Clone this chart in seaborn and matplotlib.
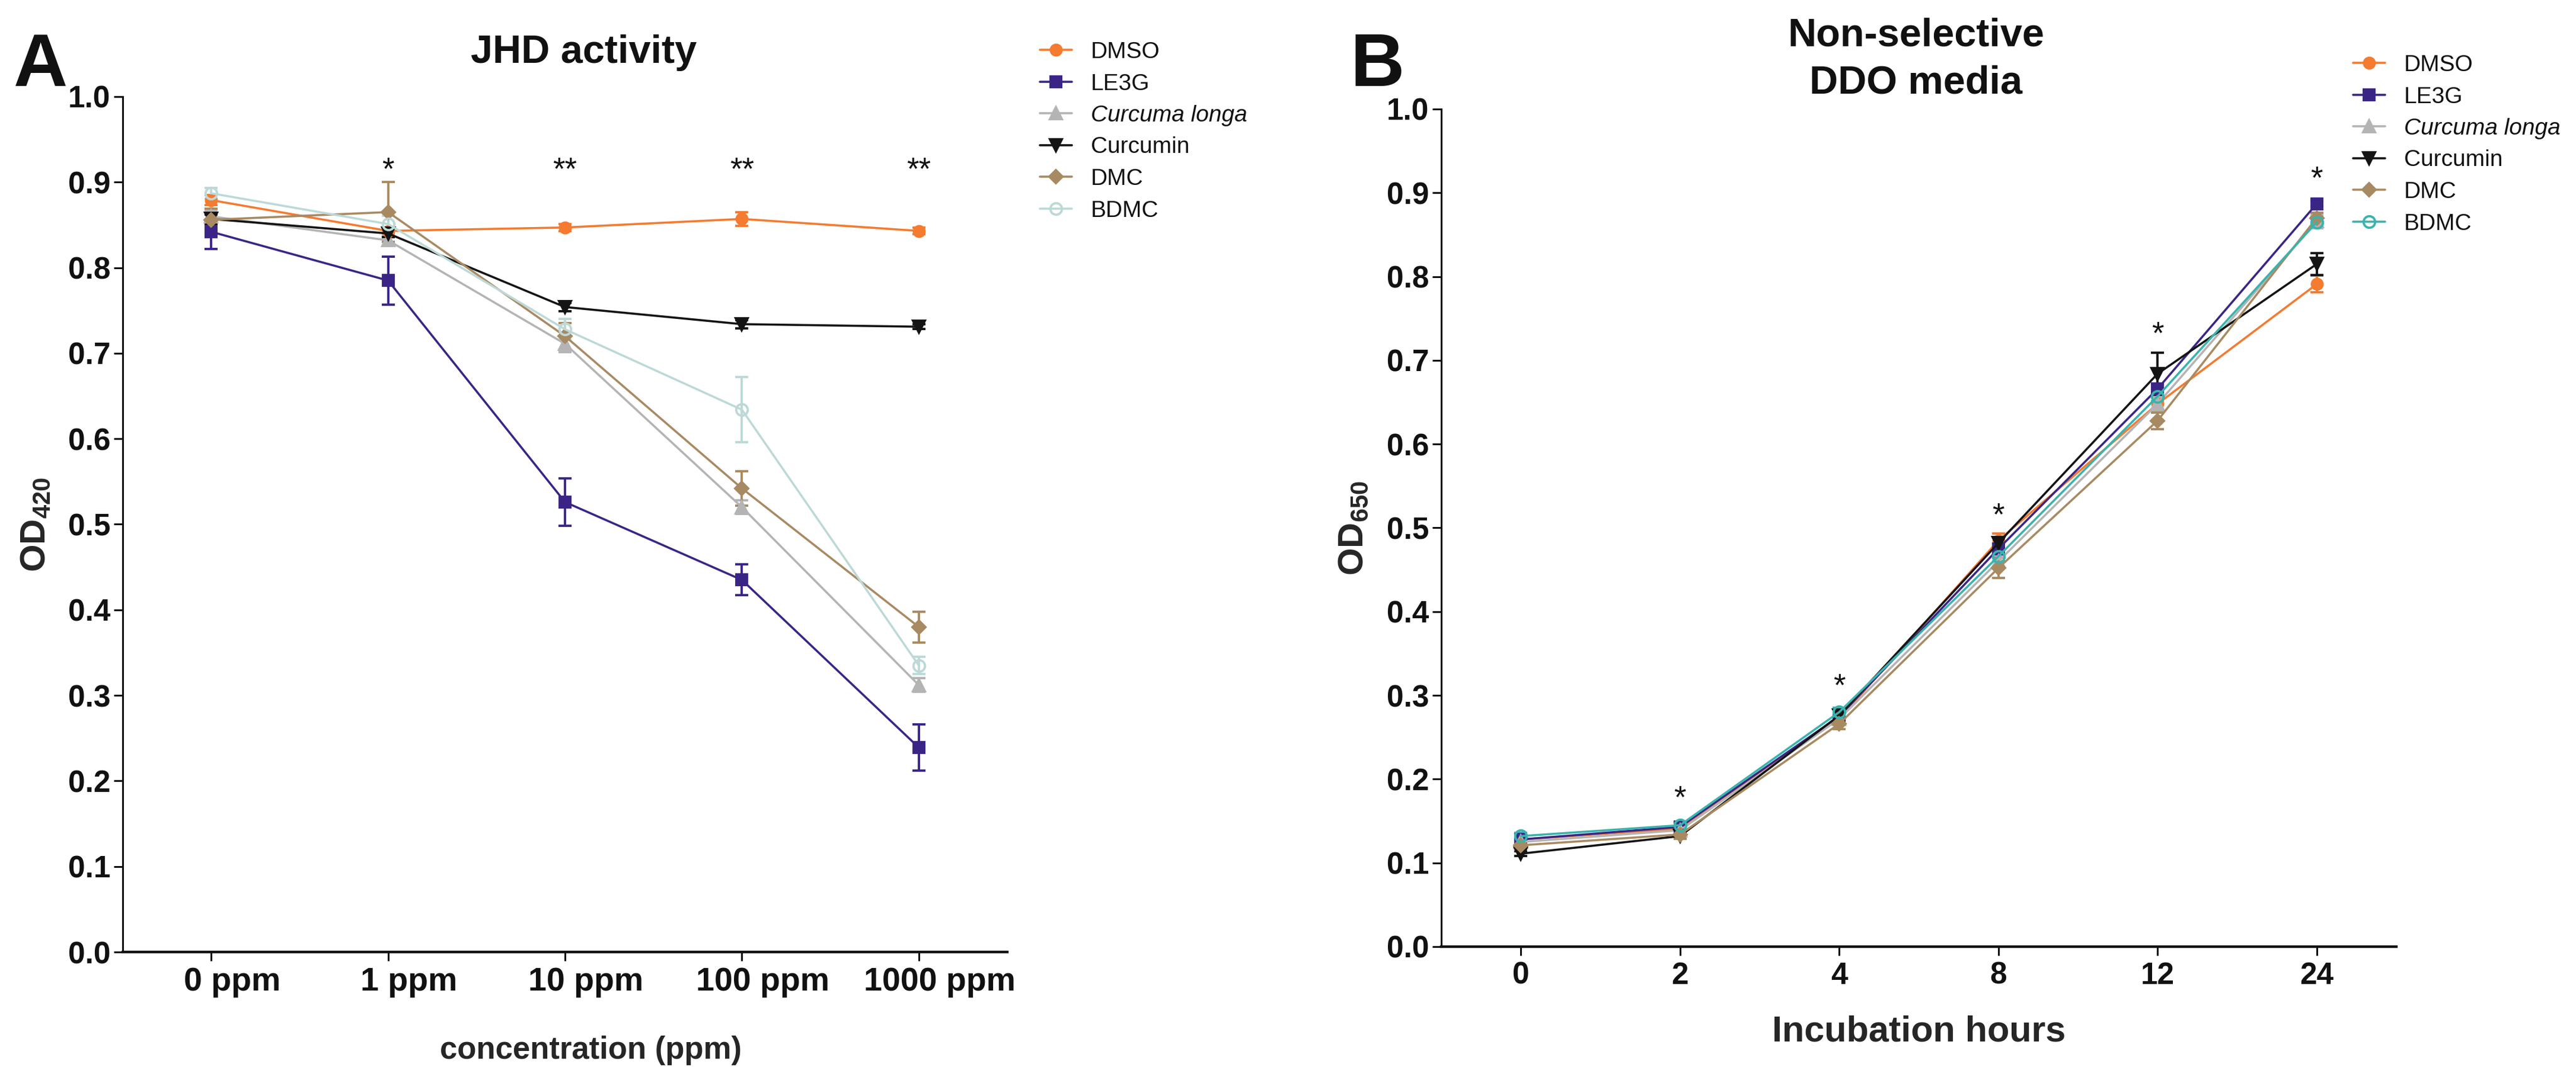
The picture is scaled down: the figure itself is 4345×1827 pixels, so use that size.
import numpy as np
import pandas as pd
import matplotlib
matplotlib.use("Agg")
import matplotlib.pyplot as plt
import seaborn as sns
from matplotlib import transforms

# ---------------- data ----------------
series = ["DMSO", "LE3G", "Curcuma longa", "Curcumin", "DMC", "BDMC"]
conc_labels = ["0 ppm", "1 ppm", "10 ppm", "100 ppm", "1000 ppm"]
hour_labels = ["0", "2", "4", "8", "12", "24"]

# Panel A: JHD activity (OD420), mean and SEM
jhd_DMSO = [0.879, 0.843, 0.847, 0.857, 0.843]
jhd_LE3G = [0.842, 0.785, 0.526, 0.435, 0.239]
jhd_Curcuma = [0.860, 0.832, 0.711, 0.520, 0.312]
jhd_Curcumin = [0.857, 0.840, 0.754, 0.734, 0.731]
jhd_DMC = [0.856, 0.865, 0.720, 0.542, 0.380]
jhd_BDMC = [0.887, 0.851, 0.728, 0.634, 0.335]

jhd_err_DMSO = [0.006, 0.004, 0.004, 0.008, 0.004]
jhd_err_LE3G = [0.020, 0.028, 0.028, 0.018, 0.027]
jhd_err_Curcuma = [0.006, 0.006, 0.010, 0.008, 0.008]
jhd_err_Curcumin = [0.006, 0.004, 0.005, 0.005, 0.003]
jhd_err_DMC = [0.013, 0.035, 0.015, 0.020, 0.018]
jhd_err_BDMC = [0.006, 0.010, 0.012, 0.038, 0.010]

jhd_star_pos = [1, 2, 3, 4]
jhd_star_text = ["*", "**", "**", "**"]
jhd_star_y = [0.925, 0.925, 0.925, 0.925]

# Panel B: growth in non-selective DDO media (OD650)
ddo_DMSO = [0.128, 0.141, 0.272, 0.485, 0.648, 0.791]
ddo_LE3G = [0.128, 0.143, 0.275, 0.475, 0.666, 0.887]
ddo_Curcuma = [0.125, 0.139, 0.272, 0.460, 0.648, 0.866]
ddo_Curcumin = [0.111, 0.132, 0.276, 0.482, 0.684, 0.815]
ddo_DMC = [0.121, 0.134, 0.266, 0.452, 0.628, 0.870]
ddo_BDMC = [0.132, 0.145, 0.280, 0.466, 0.657, 0.865]

ddo_err_DMSO = [0.004, 0.004, 0.005, 0.008, 0.010, 0.010]
ddo_err_LE3G = [0.004, 0.004, 0.005, 0.006, 0.006, 0.003]
ddo_err_Curcuma = [0.004, 0.004, 0.005, 0.006, 0.008, 0.008]
ddo_err_Curcumin = [0.003, 0.003, 0.004, 0.006, 0.025, 0.013]
ddo_err_DMC = [0.005, 0.005, 0.006, 0.012, 0.010, 0.006]
ddo_err_BDMC = [0.004, 0.004, 0.005, 0.006, 0.006, 0.006]

ddo_star_pos = [1, 2, 3, 4, 5]
ddo_star_text = ["*", "*", "*", "*", "*"]
ddo_star_y = [0.188, 0.322, 0.526, 0.742, 0.928]

jhd_vals = [jhd_DMSO, jhd_LE3G, jhd_Curcuma, jhd_Curcumin, jhd_DMC, jhd_BDMC]
jhd_errs = [jhd_err_DMSO, jhd_err_LE3G, jhd_err_Curcuma, jhd_err_Curcumin, jhd_err_DMC, jhd_err_BDMC]
ddo_vals = [ddo_DMSO, ddo_LE3G, ddo_Curcuma, ddo_Curcumin, ddo_DMC, ddo_BDMC]
ddo_errs = [ddo_err_DMSO, ddo_err_LE3G, ddo_err_Curcuma, ddo_err_Curcumin, ddo_err_DMC, ddo_err_BDMC]


def long_df(labels, vals, errs):
    rows = []
    for name, v, e in zip(series, vals, errs):
        for i, (vv, ee) in enumerate(zip(v, e)):
            rows.append({"series": name, "pos": i, "label": labels[i], "value": vv, "err": ee})
    return pd.DataFrame(rows)


dfA = long_df(conc_labels, jhd_vals, jhd_errs)
dfB = long_df(hour_labels, ddo_vals, ddo_errs)

# ---------------- style ----------------
sns.set_style("ticks")
plt.rcParams["font.family"] = ["Liberation Sans", "DejaVu Sans"]
plt.rcParams["mathtext.fontset"] = "custom"
plt.rcParams["mathtext.rm"] = "Liberation Sans"
plt.rcParams["mathtext.bf"] = "Liberation Sans:bold"
plt.rcParams["text.color"] = "#111111"

colorsA = {"DMSO": "#F47B30", "LE3G": "#3A2586", "Curcuma longa": "#B4B4B4",
           "Curcumin": "#141414", "DMC": "#A88A62", "BDMC": "#BCD9D7"}
colorsB = dict(colorsA)
colorsB["BDMC"] = "#3AB3AD"
markers = {"DMSO": "o", "LE3G": "s", "Curcuma longa": "^", "Curcumin": "v",
           "DMC": "D", "BDMC": "o"}
msizes = {"DMSO": 13, "LE3G": 13, "Curcuma longa": 14, "Curcumin": 14, "DMC": 11, "BDMC": 14}

W, H = 4345, 1827
fig = plt.figure(figsize=(W / 100, H / 100), dpi=100)
fig.patch.set_facecolor("white")

axA = fig.add_axes([207 / W, 1 - 1606 / H, (1699 - 207) / W, (1606 - 163) / H])
axB = fig.add_axes([2431 / W, 1 - 1597 / H, (4042 - 2431) / W, (1597 - 184) / H])


def draw_panel(ax, df, colors):
    handles = []
    for name in series:
        d = df[df["series"] == name]
        c = colors[name]
        n0 = len(ax.lines)
        sns.lineplot(data=d, x="pos", y="value", ax=ax, color=c, marker=markers[name],
                     markersize=msizes[name],
                     markerfacecolor=("none" if name == "BDMC" else c),
                     markeredgecolor=c, markeredgewidth=2.8, linewidth=2.6,
                     errorbar=None, legend=False, zorder=3)
        h = ax.lines[n0]
        handles.append(h)
        ax.errorbar(d["pos"], d["value"], yerr=d["err"], fmt="none", ecolor=c,
                    elinewidth=2.8, capsize=8, capthick=2.8, zorder=2.5)
    return handles


hA = draw_panel(axA, dfA, colorsA)
hB = draw_panel(axB, dfB, colorsB)

for ax, labels in [(axA, conc_labels), (axB, hour_labels)]:
    ax.set_xlim(-0.5, len(labels) - 0.5)
    ax.set_ylim(0, 1.0)
    ax.set_xticks(range(len(labels)))
    ax.set_xticklabels(labels)
    yt = np.round(np.arange(0, 1.01, 0.1), 1)
    ax.set_yticks(yt)
    ax.set_yticklabels([f"{v:.1f}" for v in yt])
    sns.despine(ax=ax)
    ax.spines["left"].set_linewidth(2.2)
    ax.spines["bottom"].set_linewidth(3.2)
    ax.spines["left"].set_color("#111111")
    ax.spines["bottom"].set_color("#111111")
    ax.tick_params(axis="both", direction="out", length=11, width=2.2, color="#111111",
                   labelcolor="#111111")
    ax.tick_params(axis="y", labelsize=37, pad=4)
    ax.tick_params(axis="x", pad=7)
    for lbl in ax.get_xticklabels() + ax.get_yticklabels():
        lbl.set_fontweight("bold")
    ax.set_facecolor("white")

axA.tick_params(axis="x", labelsize=40)
axB.tick_params(axis="x", labelsize=37)
shift = transforms.ScaledTranslation(0.35, 0, fig.dpi_scale_trans)
for lbl in axA.get_xticklabels():
    lbl.set_transform(lbl.get_transform() + shift)

# axis labels
axA.set_xlabel("concentration (ppm)", fontsize=38, fontweight="bold")
axA.xaxis.set_label_coords((997 - 207) / 1492, (1606 - 1772) / 1443)
axA.xaxis.label.set_va("center")
axB.set_xlabel("Incubation hours", fontsize=44, fontweight="bold")
axB.xaxis.set_label_coords(0.5, (1597 - 1741) / 1413)
axB.xaxis.label.set_va("center")

axA.set_ylabel(r"$\mathbf{OD_{420}}$", fontsize=43)
axA.yaxis.set_label_coords((60 - 207) / 1492, 0.5)
axA.yaxis.label.set_va("center")
axB.set_ylabel(r"$\mathbf{OD_{650}}$", fontsize=43)
axB.yaxis.set_label_coords((2283 - 2431) / 1611, 0.5)
axB.yaxis.label.set_va("center")

# significance stars
for ax, xs, ts, ys in [(axA, jhd_star_pos, jhd_star_text, jhd_star_y),
                       (axB, ddo_star_pos, ddo_star_text, ddo_star_y)]:
    tr = transforms.offset_copy(ax.transData, fig=fig, y=-31, units="dots")
    for x, t, y in zip(xs, ts, ys):
        ax.text(x, y, t, transform=tr, ha="center", va="baseline", fontsize=38)

# legends
for ax, handles, anchor in [(axA, hA, (1754 / W, 1 - 70 / H)), (axB, hB, (3969 / W, 1 - 92 / H))]:
    leg = ax.legend(handles, series, loc="upper left", bbox_to_anchor=anchor,
                    bbox_transform=fig.transFigure, frameon=False, borderpad=0,
                    borderaxespad=0, handlelength=1.4, handletextpad=0.8,
                    labelspacing=0.45, fontsize=28)
    leg.get_texts()[2].set_fontstyle("italic")

# titles and panel letters
fig.text(985 / W, 1 - 106 / H, "JHD activity", fontsize=48, fontweight="bold",
         ha="center", va="baseline")
fig.text(3232 / W, 1 - 77 / H, "Non-selective", fontsize=48, fontweight="bold",
         ha="center", va="baseline")
fig.text(3232 / W, 1 - 157 / H, "DDO media", fontsize=48, fontweight="bold",
         ha="center", va="baseline")
fig.text(23 / W, 1 - 145 / H, "A", fontsize=91, fontweight="bold", ha="left", va="baseline")
fig.text(2278 / W, 1 - 145 / H, "B", fontsize=91, fontweight="bold", ha="left", va="baseline")

fig.savefig("out.png", dpi=100, facecolor="white")
